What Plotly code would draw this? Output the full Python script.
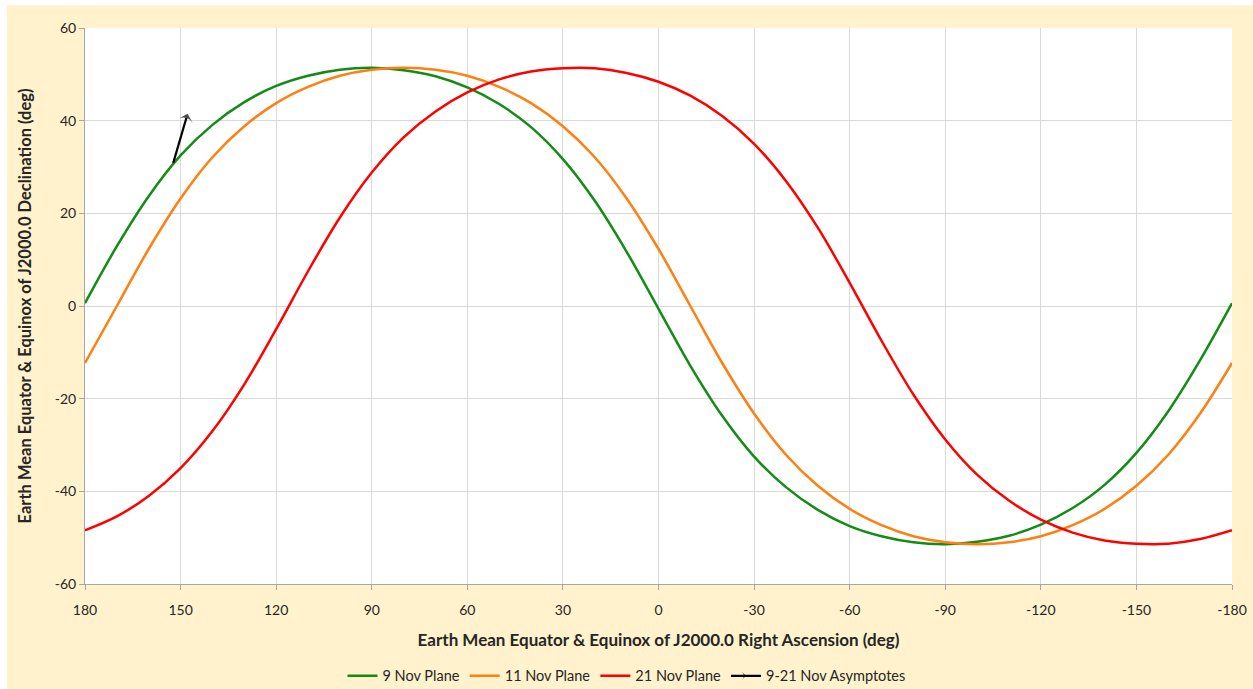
import plotly.graph_objects as go

# Right ascension samples (deg)
ra = [180, 170, 160, 150, 140, 130, 120, 110, 100, 90, 80, 70, 60, 50, 40, 30, 20, 10, 0,
      -10, -20, -30, -40, -50, -60, -70, -80, -90, -100, -110, -120, -130, -140, -150, -160, -170, -180]

dec_9nov = [0.6, 12.9, 23.7, 32.5, 39.1, 44.0, 47.5, 49.7, 51.0, 51.4, 50.9, 49.6, 47.2, 43.6, 38.6, 31.7,
            22.7, 11.7, -0.6, -12.9, -23.7, -32.5, -39.1, -44.0, -47.5, -49.7, -51.0, -51.4, -50.9, -49.6,
            -47.2, -43.6, -38.6, -31.7, -22.7, -11.7, 0.6]

dec_11nov = [-12.3, 0.0, 12.3, 23.2, 32.1, 38.8, 43.8, 47.3, 49.7, 51.0, 51.4, 51.0, 49.7, 47.3, 43.8, 38.8,
             32.1, 23.2, 12.3, 0.0, -12.3, -23.2, -32.1, -38.8, -43.8, -47.3, -49.7, -51.0, -51.4, -51.0,
             -49.7, -47.3, -43.8, -38.8, -32.1, -23.2, -12.3]

dec_21nov = [-48.4, -45.4, -41.0, -35.0, -27.0, -16.9, -5.0, 7.5, 19.1, 28.8, 36.4, 42.0, 46.1, 48.9, 50.6,
             51.3, 51.3, 50.3, 48.4, 45.4, 41.0, 35.0, 27.0, 16.9, 5.0, -7.5, -19.1, -28.8, -36.4, -42.0,
             -46.1, -48.9, -50.6, -51.3, -51.3, -50.3, -48.4]

# Asymptote arrow (tail -> head)
asym_ra = [152.3, 147.8]
asym_dec = [30.9, 41.5]

x_ticks = [180, 150, 120, 90, 60, 30, 0, -30, -60, -90, -120, -150, -180]
x_labels = ["180", "150", "120", "90", "60", "30", "0", "-30", "-60", "-90", "-120", "-150", "-180"]
y_ticks = [60, 40, 20, 0, -20, -40, -60]
y_labels = ["60", "40", "20", "0", "-20", "-40", "-60"]

FONT = "Lato, Carlito, 'Liberation Sans', sans-serif"
TXT = "#262626"

fig = go.Figure()
fig.add_trace(go.Scatter(x=ra, y=dec_9nov, mode="lines", name="9 Nov Plane",
                         line=dict(color="#138C16", width=2.5, shape="spline", smoothing=1.0)))
fig.add_trace(go.Scatter(x=ra, y=dec_11nov, mode="lines", name="11 Nov Plane",
                         line=dict(color="#FF7F10", width=2.5, shape="spline", smoothing=1.0)))
fig.add_trace(go.Scatter(x=ra, y=dec_21nov, mode="lines", name="21 Nov Plane",
                         line=dict(color="#FF0000", width=2.5, shape="spline", smoothing=1.0)))
fig.add_trace(go.Scatter(x=asym_ra, y=asym_dec, mode="lines+markers", name="9-21 Nov Asymptotes",
                         line=dict(color="#000000", width=2.2),
                         marker=dict(symbol="arrow-wide", size=[0, 11], angleref="previous",
                                     color="#000000", line=dict(width=0))))

fig.update_layout(
    width=1253, height=689,
    margin=dict(l=85, r=21, t=28, b=105),
    paper_bgcolor="#FFF2CC",
    plot_bgcolor="#FFFFFF",
    font=dict(family=FONT, size=14, color=TXT),
    showlegend=True,
    legend=dict(orientation="h", x=0.5, xanchor="center", xref="container",
                y=0.019, yanchor="middle", yref="container",
                font=dict(size=14.5, color=TXT), bgcolor="rgba(0,0,0,0)", itemwidth=30,
                tracegroupgap=0),
    shapes=[
        dict(type="rect", xref="paper", yref="paper", x0=-0.08, x1=-0.068, y0=-0.3, y1=1.1,
             fillcolor="#FFFFFF", line=dict(width=0), layer="below"),
        dict(type="rect", xref="paper", yref="paper", x0=-0.08, x1=1.05, y0=1.041, y1=1.1,
             fillcolor="#FFFFFF", line=dict(width=0), layer="below"),
    ],
)

fig.update_xaxes(
    range=[180, -180], tickmode="array", tickvals=x_ticks, ticktext=x_labels,
    showgrid=True, gridcolor="#D9D9D9", gridwidth=1, zeroline=False,
    showline=True, linecolor="#A6A6A6", linewidth=1, automargin=False,
    ticks="outside", ticklen=5, tickcolor="#A6A6A6",
    tickfont=dict(size=14, color=TXT), ticklabelstandoff=8,
    title=dict(text="<b>Earth Mean Equator & Equinox of J2000.0 Right Ascension (deg)</b>",
               font=dict(size=17, color=TXT), standoff=17),
)
fig.update_yaxes(
    range=[-60, 60], tickmode="array", tickvals=y_ticks, ticktext=y_labels,
    showgrid=True, gridcolor="#D9D9D9", gridwidth=1, zeroline=False,
    showline=True, linecolor="#A6A6A6", linewidth=1, automargin=False,
    ticks="outside", ticklen=5, tickcolor="#A6A6A6",
    tickfont=dict(size=14, color=TXT),
    title=dict(text="<b>Earth Mean Equator & Equinox of J2000.0 Declination (deg)</b>",
               font=dict(size=16.5, color=TXT), standoff=18),
)

fig.write_html("out.html", config={"displayModeBar": False},
               post_script="document.body.style.margin='0';")
